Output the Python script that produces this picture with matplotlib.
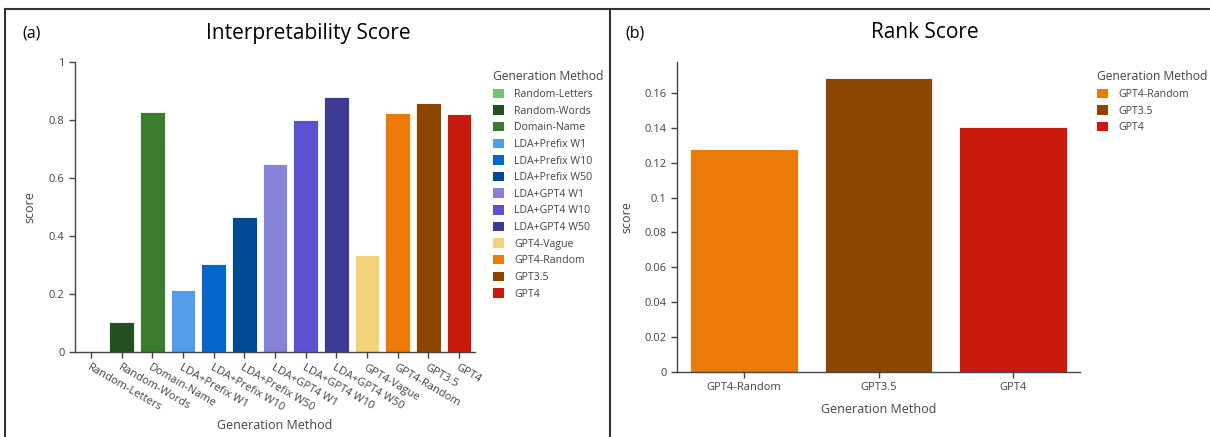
import matplotlib.pyplot as plt
from matplotlib.lines import Line2D
from matplotlib.patches import Patch

plt.rcParams['font.family'] = ['Open Sans', 'DejaVu Sans']

# data
methods_a = ['Random-Letters', 'Random-Words', 'Domain-Name',
             'LDA+Prefix W1', 'LDA+Prefix W10', 'LDA+Prefix W50',
             'LDA+GPT4 W1', 'LDA+GPT4 W10', 'LDA+GPT4 W50',
             'GPT4-Vague', 'GPT4-Random', 'GPT3.5', 'GPT4']
interp_score = [0.0, 0.103, 0.826, 0.214, 0.304, 0.466, 0.647, 0.800,
                0.878, 0.334, 0.823, 0.857, 0.819]
colors_a = ['#74c476', '#225020', '#3a7d2f', '#549be8', '#0566cc',
            '#004a94', '#8682da', '#5a52d0', '#3c3a94', '#f4d27a',
            '#ec7a0a', '#8c4600', '#c8190c']

methods_b = ['GPT4-Random', 'GPT3.5', 'GPT4']
rank_score = [0.1276, 0.1688, 0.1407]
colors_b = ['#ec7a0a', '#8c4600', '#c8190c']

W, H = 1210, 437
fig = plt.figure(figsize=(W / 100, H / 100), dpi=100)


def px_box(x0, x1, ytop, ybot):
    return [x0 / W, 1 - ybot / H, (x1 - x0) / W, (ybot - ytop) / H]


def style_axes(ax):
    for s in ['top', 'right']:
        ax.spines[s].set_visible(False)
    for s in ['left', 'bottom']:
        ax.spines[s].set_color('#444444')
        ax.spines[s].set_linewidth(1.0)
    ax.tick_params(axis='both', direction='out', length=4, width=1,
                   color='#444444', labelsize=8, labelcolor='#444444')


def fmt(v):
    s = ('%.2f' % v).rstrip('0').rstrip('.')
    return s


def legend(ax, labels, colors, x, y):
    handles = [Patch(facecolor=c, edgecolor='none') for c in colors]
    leg = ax.legend(handles, labels, title='Generation Method',
                    loc='upper left', bbox_to_anchor=(x, y),
                    frameon=False, fontsize=7.6, title_fontsize=8.7,
                    handlelength=1.0, handleheight=1.0, handletextpad=1.0,
                    labelspacing=0.5, borderaxespad=0)
    leg.get_title().set_color('#444444')
    for t in leg.get_texts():
        t.set_color('#444444')
    leg._legend_box.align = 'left'
    leg._legend_box.sep = 4


# (a) interpretability score
ax1 = fig.add_axes(px_box(75, 475, 62, 352))
xa = list(range(len(methods_a)))
ax1.bar(xa, interp_score, width=0.8, color=colors_a,
        edgecolor='white', linewidth=0.6)
ax1.set_xlim(-0.52, len(methods_a) - 0.48)
ax1.set_ylim(0, 1)
yt = [0, 0.2, 0.4, 0.6, 0.8, 1]
ax1.set_yticks(yt)
ax1.set_yticklabels([fmt(v) for v in yt])
ax1.set_xticks(xa)
ax1.set_xticklabels(methods_a, rotation=-30, ha='left', va='top',
                    rotation_mode='anchor')
style_axes(ax1)
ax1.set_ylabel('score', fontsize=9, color='#444444', labelpad=9)
ax1.set_xlabel('Generation Method', fontsize=9, color='#444444')
ax1.xaxis.set_label_coords(0.5, 1 - (419 - 62) / 290)
legend(ax1, methods_a, colors_a, (489 - 75) / 400, 1 - (66 - 62) / 290)

# (b) rank score
ax2 = fig.add_axes(px_box(677, 1080, 62, 372))
xb = list(range(len(methods_b)))
ax2.bar(xb, rank_score, width=0.8, color=colors_b,
        edgecolor='white', linewidth=0.6)
ax2.set_xlim(-0.5, 2.5)
ax2.set_ylim(0, 0.1777)
ytb = [0, 0.02, 0.04, 0.06, 0.08, 0.1, 0.12, 0.14, 0.16]
ax2.set_yticks(ytb)
ax2.set_yticklabels([fmt(v) for v in ytb])
ax2.set_xticks(xb)
ax2.set_xticklabels(methods_b)
style_axes(ax2)
ax2.set_ylabel('score', fontsize=9, color='#444444', labelpad=8)
ax2.set_xlabel('Generation Method', fontsize=9, color='#444444')
ax2.xaxis.set_label_coords(0.5, 1 - (403 - 62) / 310)
legend(ax2, methods_b, colors_b, (1093 - 677) / 403, 1 - (66 - 62) / 310)

# titles and panel letters
fig.text(308 / W, 1 - 33 / H, 'Interpretability Score', fontsize=15,
         ha='center', va='center', color='black')
fig.text(925 / W, 1 - 33 / H, 'Rank Score', fontsize=15,
         ha='center', va='center', color='black')
fig.text(22 / W, 1 - 33 / H, '(a)', fontsize=11.5, ha='left', va='center')
fig.text(625 / W, 1 - 33 / H, '(b)', fontsize=11.5, ha='left', va='center')

# panel borders
bc = '#333333'
fig.add_artist(Line2D([5 / W, 5 / W], [0, 1 - 9 / H], color=bc, lw=1.5,
                      transform=fig.transFigure))
fig.add_artist(Line2D([5 / W, 1], [1 - 9 / H, 1 - 9 / H], color=bc, lw=1.5,
                      transform=fig.transFigure))
fig.add_artist(Line2D([610 / W, 610 / W], [0, 1 - 9 / H], color=bc, lw=1.5,
                      transform=fig.transFigure))

fig.savefig('out.png', dpi=100)
